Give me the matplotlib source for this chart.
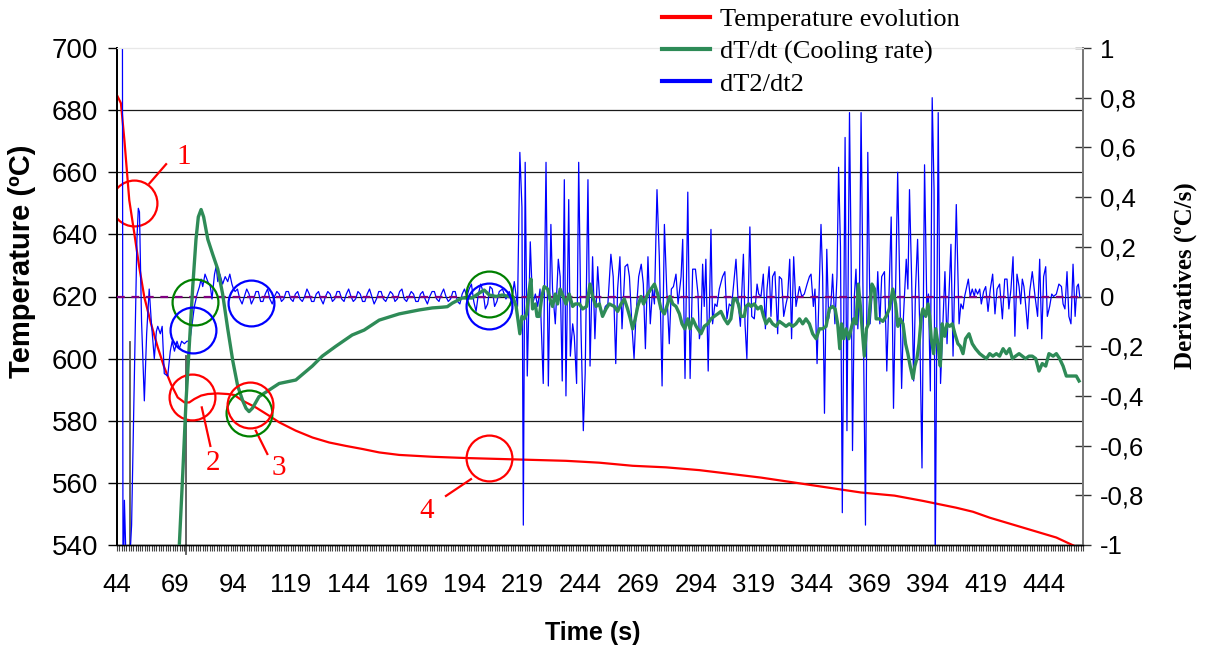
import matplotlib
matplotlib.use("Agg")
import matplotlib.pyplot as plt
from matplotlib.lines import Line2D

# ---------------- data ----------------
temp_t = [44.0, 45.7, 47.2, 48.6, 49.3, 51.5, 53.6, 55.8, 58.7, 61.6, 64.4, 67.3, 70.2, 73.1,
          75.2, 77.4, 80.3, 83.2, 87.5, 91.8, 94.6, 98.1, 103.9, 109.7, 114.0, 121.2, 128.4,
          135.6, 142.8, 150.0, 157.2, 165.8, 180.2, 194.6, 209.0, 223.4, 237.8, 252.2, 266.6,
          281.0, 295.4, 307.6, 322.0, 336.4, 350.8, 365.2, 379.6, 391.9, 399.1, 406.3, 413.5,
          420.7, 427.9, 435.1, 442.3, 449.5, 456.4, 461.0]
temp_v = [684.8, 682.2, 670.3, 657.4, 651.0, 640.2, 629.5, 619.8, 611.2, 603.6, 597.2, 591.8,
          587.5, 585.9, 585.9, 587.0, 588.1, 588.6, 588.8, 588.6, 588.3, 586.5, 584.3, 581.6,
          579.5, 576.8, 574.6, 573.0, 571.9, 570.9, 569.8, 569.0, 568.4, 568.0, 567.7, 567.4,
          567.1, 566.5, 565.5, 565.0, 564.1, 563.0, 561.7, 560.1, 558.5, 556.9, 555.9, 554.2,
          553.1, 552.0, 550.7, 548.8, 547.2, 545.6, 544.0, 542.4, 540.0, 538.6]

green_t = [70.0, 70.9, 72.4, 73.8, 75.3, 76.7, 78.1, 79.1, 80.3, 81.4, 83.2, 85.3, 87.5, 89.6,
           91.8, 94.0, 96.1, 98.3, 99.7, 101.0, 102.5, 105.3, 109.7, 114.0, 121.2, 128.3,
           132.6, 138.5, 145.5, 150.7, 157.2, 165.8, 174.5, 180.1, 184.4, 186.6, 188.7, 193.0,
           197.3, 200.4, 202.5, 204.7, 207.7, 210.3, 213.2, 214.8, 216.3, 217.9, 218.8, 219.8,
           220.8, 222.0, 222.7, 223.4, 224.6, 225.3, 226.3, 227.4, 228.4, 229.9, 230.9, 232.0,
           233.2, 234.2, 235.3, 236.6, 237.8, 239.2, 240.7, 241.8, 243.6, 245.0, 246.7, 248.2,
           249.3, 250.8, 252.2, 253.6, 255.1, 256.5, 258.7, 260.1, 261.6, 263.0, 264.4, 265.6,
           266.6, 267.7, 268.8, 270.2, 271.3, 273.1, 274.5, 276.0, 277.4, 278.8, 280.3, 281.7,
           282.7, 283.9, 285.3, 286.8, 287.9, 289.1, 290.4, 291.4, 292.5, 294.0, 296.1, 297.5,
           299.0, 300.4, 301.8, 303.3, 304.7, 306.2, 307.6, 309.0, 310.2, 311.2, 312.2, 313.4,
           314.8, 315.5, 316.7, 317.7, 319.1, 320.6, 322.0, 323.1, 324.2, 325.6, 327.0, 328.5,
           329.9, 331.4, 332.8, 334.2, 335.7, 337.1, 338.6, 340.0, 341.4, 342.9, 344.3, 345.8,
           347.2, 348.6, 350.1, 351.5, 352.9, 354.0, 355.1, 356.0, 356.8, 357.7, 358.7, 359.9,
           360.9, 362.0, 363.0, 364.0, 364.9, 365.9, 366.6, 367.5, 368.4, 369.1, 369.9, 371.0,
           371.7, 373.1, 374.6, 376.0, 377.4, 378.9, 380.1, 381.1, 382.1, 383.3, 384.4, 385.4,
           386.4, 387.6, 388.4, 389.3, 390.2, 391.2, 391.9, 393.1, 394.1, 394.8, 395.5, 396.5,
           397.4, 398.4, 399.4, 400.2, 401.3, 402.3, 403.4, 404.6, 405.7, 407.0, 408.0, 409.2,
           410.3, 411.8, 413.2, 414.6, 416.4, 417.8, 419.3, 420.7, 422.1, 423.6, 425.0, 426.5,
           427.9, 429.3, 430.5, 431.9, 433.4, 434.8, 436.2, 437.7, 439.1, 440.6, 442.0, 443.4,
           444.9, 446.3, 448.1, 449.5, 450.9, 452.4, 453.8, 455.3, 456.7, 458.1, 459.3]
green_v = [-1.2, -1.0, -0.71, -0.42, -0.18, 0.04, 0.23, 0.32, 0.35, 0.32, 0.23, 0.17, 0.11, 0.01,
           -0.13, -0.26, -0.36, -0.42, -0.45, -0.463, -0.449, -0.403, -0.376, -0.35, -0.336, -0.28,
           -0.24, -0.20, -0.155, -0.135, -0.095, -0.07, -0.054, -0.046, -0.043, -0.041, -0.027, -0.006,
           -0.006, 0.014, 0.026, 0.006, 0.0, 0.006, 0.0, 0.0, -0.04, -0.15, -0.08, -0.09,
           -0.07, 0.03, 0.07, -0.05, -0.03, -0.08, -0.08, 0.0, 0.04, 0.03, -0.01, -0.04,
           0.01, -0.03, 0.03, 0.0, -0.03, 0.01, -0.04, -0.03, -0.03, -0.05, -0.04, 0.05,
           0.0, -0.04, -0.03, -0.08, -0.05, -0.03, -0.04, -0.06, -0.03, -0.01, -0.05, -0.09,
           -0.13, -0.09, -0.04, 0.0, -0.03, 0.01, 0.03, 0.05, 0.01, -0.05, -0.07, -0.03,
           0.0, -0.03, -0.04, -0.07, -0.11, -0.13, -0.09, -0.13, -0.09, -0.12, -0.15, -0.12,
           -0.11, -0.09, -0.08, -0.07, -0.06, -0.09, -0.11, -0.09, -0.01, -0.01, -0.03, -0.08,
           -0.08, -0.04, -0.03, -0.04, -0.03, -0.05, -0.04, -0.08, -0.11, -0.09, -0.11, -0.12,
           -0.10, -0.11, -0.12, -0.11, -0.12, -0.11, -0.09, -0.11, -0.09, -0.11, -0.15, -0.17,
           -0.13, -0.13, -0.12, -0.05, -0.04, -0.05, -0.11, -0.21, -0.11, -0.17, -0.13, -0.17,
           -0.13, -0.09, -0.11, 0.05, -0.04, -0.16, -0.24, -0.13, -0.11, -0.03, 0.05, 0.03,
           -0.09, -0.09, -0.10, -0.08, -0.05, 0.03, -0.03, -0.12, -0.09, -0.11, -0.19, -0.23,
           -0.28, -0.33, -0.28, -0.25, -0.19, -0.08, -0.05, -0.08, -0.03, -0.08, -0.17, -0.23,
           -0.13, -0.19, -0.28, -0.11, -0.16, -0.11, -0.12, -0.11, -0.15, -0.19, -0.20, -0.23,
           -0.17, -0.15, -0.19, -0.21, -0.23, -0.24, -0.25, -0.23, -0.24, -0.23, -0.24, -0.21,
           -0.23, -0.21, -0.25, -0.24, -0.23, -0.24, -0.25, -0.24, -0.24, -0.25, -0.30, -0.27,
           -0.28, -0.23, -0.24, -0.23, -0.25, -0.28, -0.32, -0.32, -0.32, -0.32, -0.34]

blue_early = [(46.3, 1.5), (46.6, -1.3), (47.2, -0.82), (48.0, -1.1), (49.3, -1.1), (50.3, -0.92),
              (51.5, -0.31), (52.6, 0.23), (53.2, 0.355), (53.7, 0.34), (54.6, -0.1), (55.8, -0.42),
              (56.8, -0.15), (57.9, 0.03), (58.8, -0.1), (59.4, -0.17), (60.1, -0.25), (61.0, -0.14),
              (61.6, -0.12), (62.7, -0.15), (63.5, -0.12), (64.4, -0.31), (65.9, -0.32), (67.0, -0.22),
              (67.8, -0.18), (68.8, -0.22), (69.9, -0.18), (70.9, -0.21), (71.9, -0.18), (73.1, -0.19),
              (74.2, -0.18), (75.4, -0.18), (76.3, -0.12), (77.4, -0.04), (78.6, 0.01), (79.6, 0.04),
              (80.3, 0.07), (81.0, 0.04), (82.0, 0.09), (83.2, 0.06), (84.3, 0.04), (85.0, -0.01),
              (86.1, 0.09), (86.8, 0.12), (87.5, 0.06), (88.4, 0.09), (89.6, 0.05), (90.7, 0.08),
              (91.8, 0.06), (92.7, 0.09), (93.6, 0.05), (94.3, 0.03)]

blue_mid_t = list(range(95, 196))
blue_mid_v = [0.02, 0.03, -0.01, -0.03, 0.00, 0.03, 0.01, -0.03, -0.01, 0.02,
              0.02, -0.02, -0.02, 0.01, 0.03, -0.01, -0.03, 0.00, 0.02, 0.01,
              -0.02, -0.01, 0.02, 0.02, -0.01, -0.02, 0.01, 0.02, -0.01, -0.02,
              0.00, 0.03, 0.01, -0.02, -0.02, 0.01, 0.02, -0.01, -0.03, 0.00,
              0.02, 0.01, -0.02, -0.01, 0.02, 0.02, -0.01, -0.02, 0.01, 0.03,
              0.00, -0.02, -0.01, 0.02, 0.01, -0.02, -0.02, 0.01, 0.03, 0.00,
              -0.03, -0.01, 0.02, 0.02, -0.01, -0.02, 0.00, 0.02, 0.01, -0.02,
              -0.01, 0.02, 0.03, -0.01, -0.02, 0.00, 0.02, 0.01, -0.02, -0.02,
              0.01, 0.02, -0.01, -0.03, 0.00, 0.02, 0.02, -0.01, -0.02, 0.01,
              0.03, 0.00, -0.02, -0.01, 0.02, 0.02, -0.02, -0.03, 0.01, 0.03,
              0.00]

blue_late = [(196.0, 0.03), (197.0, 0.05), (198.0, -0.02), (199.0, -0.06), (200.0, 0.01),
             (201.0, 0.05), (202.0, 0.02), (203.0, -0.05), (204.0, -0.03), (205.0, 0.04),
             (206.0, 0.03), (207.0, -0.04), (208.0, -0.02), (209.0, 0.02), (210.4, 0.03),
             (211.9, -0.01), (213.3, 0.02), (214.5, -0.01), (215.5, 0.06), (216.9, -0.04),
             (217.9, 0.58), (218.8, 0.36), (219.4, -0.92), (220.2, 0.54), (221.1, -0.32),
             (222.4, 0.22), (223.4, -0.03), (224.6, 0.01), (225.6, -0.04), (226.6, 0.03),
             (228.0, -0.35), (229.2, 0.54), (230.2, -0.36), (231.3, 0.29), (232.0, 0.03),
             (233.2, -0.11), (234.5, 0.15), (235.3, 0.08), (236.2, -0.34), (237.1, 0.47),
             (237.8, -0.40), (239.0, 0.39), (239.7, -0.24), (240.7, -0.11), (241.4, -0.16),
             (242.4, -0.35), (243.3, 0.54), (244.3, -0.13), (245.3, -0.54), (246.1, -0.31),
             (247.3, 0.47), (248.2, -0.28), (249.3, 0.16), (250.3, -0.17), (251.5, 0.12),
             (252.6, -0.05), (253.6, -0.08), (254.8, -0.04), (255.9, -0.03), (257.2, 0.17),
             (258.2, 0.08), (259.3, -0.27), (260.1, 0.03), (261.1, 0.16), (262.0, -0.13),
             (263.3, 0.12), (264.4, 0.13), (265.2, 0.08), (266.3, -0.12), (267.2, -0.25),
             (268.0, -0.08), (269.2, 0.08), (270.3, 0.13), (271.2, 0.05), (272.1, -0.21),
             (273.2, 0.16), (274.2, -0.11), (275.2, 0.03), (276.0, -0.03), (277.1, 0.43),
             (278.1, 0.16), (279.3, -0.36), (280.3, 0.29), (281.3, 0.03), (282.4, -0.19),
             (283.3, 0.03), (284.2, 0.04), (285.3, 0.09), (286.2, -0.03), (287.5, 0.08),
             (288.2, 0.23), (289.2, -0.33), (290.4, 0.42), (291.4, -0.33), (292.5, 0.11),
             (293.7, 0.11), (294.8, 0.01), (295.4, -0.17), (296.1, -0.13), (296.8, 0.13),
             (297.5, -0.04), (298.2, 0.15), (299.2, -0.30), (300.4, 0.27), (301.1, -0.11),
             (302.1, -0.03), (303.0, -0.04), (304.0, 0.03), (305.4, 0.08), (306.4, 0.10),
             (307.3, -0.09), (308.3, -0.03), (309.3, -0.04), (311.2, 0.15), (312.2, -0.03),
             (313.1, -0.12), (314.4, 0.17), (315.1, -0.11), (315.9, -0.25), (317.2, 0.28),
             (318.0, -0.08), (319.1, -0.09), (320.3, 0.05), (321.0, 0.01), (322.0, 0.0),
             (323.0, 0.09), (323.9, -0.13), (324.6, 0.03), (325.5, 0.12), (326.3, -0.08),
             (327.0, 0.08), (328.0, 0.10), (329.2, -0.15), (329.9, 0.08), (330.9, 0.07),
             (331.8, -0.08), (332.8, -0.03), (333.5, 0.0), (334.4, 0.15), (335.2, -0.17),
             (336.1, 0.16), (337.1, -0.04), (338.6, 0.04), (339.6, 0.0), (340.7, 0.01),
             (341.9, 0.05), (342.9, 0.08), (343.6, 0.09), (344.6, -0.04), (345.3, 0.03),
             (346.2, -0.27), (347.9, 0.29), (348.6, 0.08), (349.4, -0.47), (350.4, 0.19),
             (351.2, -0.09), (352.2, -0.03), (352.9, 0.09), (353.9, -0.11), (354.8, 0.08),
             (355.5, 0.52), (356.3, 0.20), (357.1, -0.87), (358.3, 0.64), (359.1, -0.54),
             (360.2, 0.74), (360.9, 0.16), (361.5, -0.62), (362.3, 0.0), (363.0, 0.11),
             (363.8, -0.13), (364.5, 0.03), (365.2, 0.74), (366.2, -0.15), (367.1, -0.92),
             (368.1, 0.58), (369.1, -0.11), (369.9, 0.0), (370.9, 0.0), (371.7, -0.09),
             (372.4, 0.10), (373.3, -0.11), (374.1, 0.08), (375.3, 0.10), (376.3, -0.30),
             (377.3, 0.03), (378.2, 0.32), (379.2, -0.45), (381.0, 0.50), (381.8, 0.08),
             (382.7, -0.37), (383.5, -0.08), (384.7, 0.15), (385.4, 0.03), (386.1, 0.43),
             (387.0, 0.08), (387.9, -0.34), (388.7, 0.03), (389.6, 0.23), (390.5, -0.11),
             (391.5, -0.69), (392.6, 0.53), (393.6, -0.05), (394.3, 0.01), (395.1, -0.38),
             (395.9, 0.80), (396.7, 0.43), (397.2, -1.1), (398.5, 0.74), (399.1, 0.03),
             (399.5, -0.35), (400.5, -0.11), (401.4, 0.10), (402.3, -0.19), (403.1, 0.0),
             (404.0, 0.21), (404.9, -0.24), (406.3, 0.37), (407.5, -0.11), (408.3, -0.03),
             (409.2, -0.05), (409.9, 0.0), (411.5, 0.07), (412.3, 0.0), (413.2, 0.03),
             (414.1, 0.0), (414.6, 0.03), (415.5, 0.01), (416.4, 0.03), (417.1, -0.03),
             (418.1, 0.02), (419.0, 0.04), (420.0, -0.06), (421.0, 0.03), (422.0, 0.09),
             (423.0, -0.07), (423.9, 0.03), (425.0, 0.05), (426.2, -0.09), (427.2, 0.07),
             (428.2, 0.07), (429.0, -0.05), (429.9, 0.03), (430.8, 0.16), (431.6, -0.16),
             (432.5, 0.09), (433.4, 0.04), (434.1, -0.03), (434.8, 0.07), (435.5, 0.04),
             (436.2, -0.03), (437.1, -0.13), (438.0, 0.02), (439.1, 0.10), (440.3, 0.0),
             (441.4, -0.08), (442.3, 0.15), (443.2, -0.17), (444.0, 0.08), (444.9, 0.12),
             (445.6, -0.08), (446.6, -0.04), (447.5, 0.01), (448.3, 0.0), (449.5, 0.01),
             (450.6, 0.05), (451.7, 0.04), (452.4, -0.03), (453.2, -0.05), (454.1, 0.10),
             (454.9, -0.08), (455.8, -0.11), (456.7, 0.13), (457.6, -0.08), (458.4, 0.04),
             (459.0, 0.05), (459.6, 0.0)]

# annotation marks: (time, value)
red_circles = [(51.2, 650.2), (76.4, 587.7), (204.7, 568.0)]
red_circles_der = [(101.3, -0.435)]
green_circles = [(77.7, -0.022), (101.0, -0.469), (204.7, 0.010)]
blue_circles = [(77.0, -0.135), (102.0, -0.026), (204.7, -0.037)]
labels_num = ["1", "2", "3", "4"]
leader_from = [(58.0, 656.4), (80.6, 584.3), (103.9, 576.8), (196.8, 561.2)]
leader_to = [(65.2, 662.6), (84.3, 571.9), (108.9, 569.3), (186.0, 555.8)]
label_pos = [(72.8, 664.9), (85.3, 566.5), (114.0, 564.9), (177.5, 551.0)]
marker_lines = [(49.6, 605.5), (73.8, 601.0)]

x_major = list(range(44, 445, 25))
temp_ticks = [540, 560, 580, 600, 620, 640, 660, 680, 700]
der_ticks = [-1, -0.8, -0.6, -0.4, -0.2, 0, 0.2, 0.4, 0.6, 0.8, 1]
legend_labels = ["Temperature evolution", "dT/dt (Cooling rate)", "dT2/dt2"]

# ---------------- plot ----------------
W, H = 1210, 647
fig = plt.figure(figsize=(W / 100, H / 100), dpi=100)
L, R, T, B = 117, 1083, 48, 545
ax1 = fig.add_axes([L / W, 1 - B / H, (R - L) / W, (B - T) / H])
ax2 = ax1.twinx()

RED, GREEN, BLUE, PURPLE = "#ff0000", "#2e8b57", "#0000ff", "#800080"
SANS = "Liberation Sans"
SERIF = "Liberation Serif"

ax1.set_xlim(44, 461)
ax1.set_ylim(540, 700)
ax2.set_ylim(-1, 1)

for v in temp_ticks[1:-1]:
    ax1.axhline(v, color="#1a1a1a", lw=0.9, zorder=0)

for (xv, ytop) in marker_lines:
    ax1.plot([xv, xv], [ytop, 540], color="#555555", lw=1.3, zorder=1)
ax1.plot([73.8, 73.8], [540, 537.0], color="#555555", lw=1.3, clip_on=False)

ax1.plot(temp_t, temp_v, color=RED, lw=1.6, zorder=3)

bt = [p[0] for p in blue_early] + blue_mid_t + [p[0] for p in blue_late]
bv = [p[1] for p in blue_early] + blue_mid_v + [p[1] for p in blue_late]
ax2.plot(bt, bv, color=BLUE, lw=0.9, zorder=2)
ax2.axhline(0, color=PURPLE, lw=1.6, ls=(0, (3.5, 3)), zorder=3)
ax2.plot(green_t, green_v, color=GREEN, lw=2.4, zorder=4)

ms, mew = 33, 1.6
for (x, y) in red_circles:
    ax1.plot(x, y, marker="o", ms=ms, mfc="none", mec=RED, mew=mew, zorder=5)
for (x, y) in green_circles:
    ax2.plot(x, y, marker="o", ms=ms, mfc="none", mec="#008000", mew=mew, zorder=6)
for (x, y) in blue_circles:
    ax2.plot(x, y, marker="o", ms=ms, mfc="none", mec=BLUE, mew=mew, zorder=6)
for (x, y) in red_circles_der:
    ax2.plot(x, y, marker="o", ms=ms, mfc="none", mec=RED, mew=mew, zorder=7)

for (a, b, lp, s) in zip(leader_from, leader_to, label_pos, labels_num):
    ax1.plot([a[0], b[0]], [a[1], b[1]], color=RED, lw=1.6, zorder=5)
    ax1.text(lp[0], lp[1], s, color=RED, fontsize=21, family=SERIF, ha="center", va="center",
             zorder=6)

ax1.set_yticks(temp_ticks)
ax1.set_yticklabels([str(v) for v in temp_ticks], family=SANS, fontsize=20)
ax1.set_xticks(x_major)
ax1.set_xticklabels([str(v) for v in x_major], family=SANS, fontsize=18.5)
ax1.set_xticks(list(range(44, 462)), minor=True)
ax1.tick_params(axis="x", which="both", direction="out", length=4.5, width=0.8, color="#444444",
                pad=16)
ax1.tick_params(axis="y", direction="out", length=6.5, width=1.0, color="black", pad=7)
ax2.set_yticks(der_ticks)
ax2.set_yticklabels(["1" if v == 1 else "-1" if v == -1 else ("0" if v == 0 else
                     f"{v:.1f}".replace(".", ",")) for v in der_ticks], family=SANS, fontsize=18.5)
ax2.tick_params(axis="y", direction="inout", length=12, width=1.0, color="#333333", pad=6)

for a in (ax1, ax2):
    a.spines["top"].set_color("#e8e8e8")
    a.spines["left"].set_color("black")
    a.spines["left"].set_linewidth(1.3)
    a.spines["bottom"].set_color("black")
    a.spines["bottom"].set_linewidth(1.0)
    a.spines["right"].set_color("#777777")
    a.spines["right"].set_linewidth(1.3)

fig.text(22 / W, 1 - 261 / H, "Temperature (ºC)", rotation=90, ha="center", va="center",
         family=SANS, fontweight="bold", fontsize=21)
fig.text(1185 / W, 1 - 276 / H, "Derivatives (ºC/s)", rotation=90, ha="center", va="center",
         family=SERIF, fontweight="bold", fontsize=18)
fig.text(593 / W, 1 - 633 / H, "Time (s)", ha="center", va="center",
         family=SANS, fontweight="bold", fontsize=18)

handles = [Line2D([], [], color=RED, lw=3), Line2D([], [], color=GREEN, lw=3),
           Line2D([], [], color=BLUE, lw=3)]
fig.legend(handles, legend_labels,
           loc="upper left", bbox_to_anchor=(662 / W, 1 - 8 / H), frameon=False,
           prop={"family": SERIF, "size": 19}, handlelength=1.8, handletextpad=0.38,
           labelspacing=0.32, borderpad=0, borderaxespad=0)

fig.savefig("out.png", dpi=100)
